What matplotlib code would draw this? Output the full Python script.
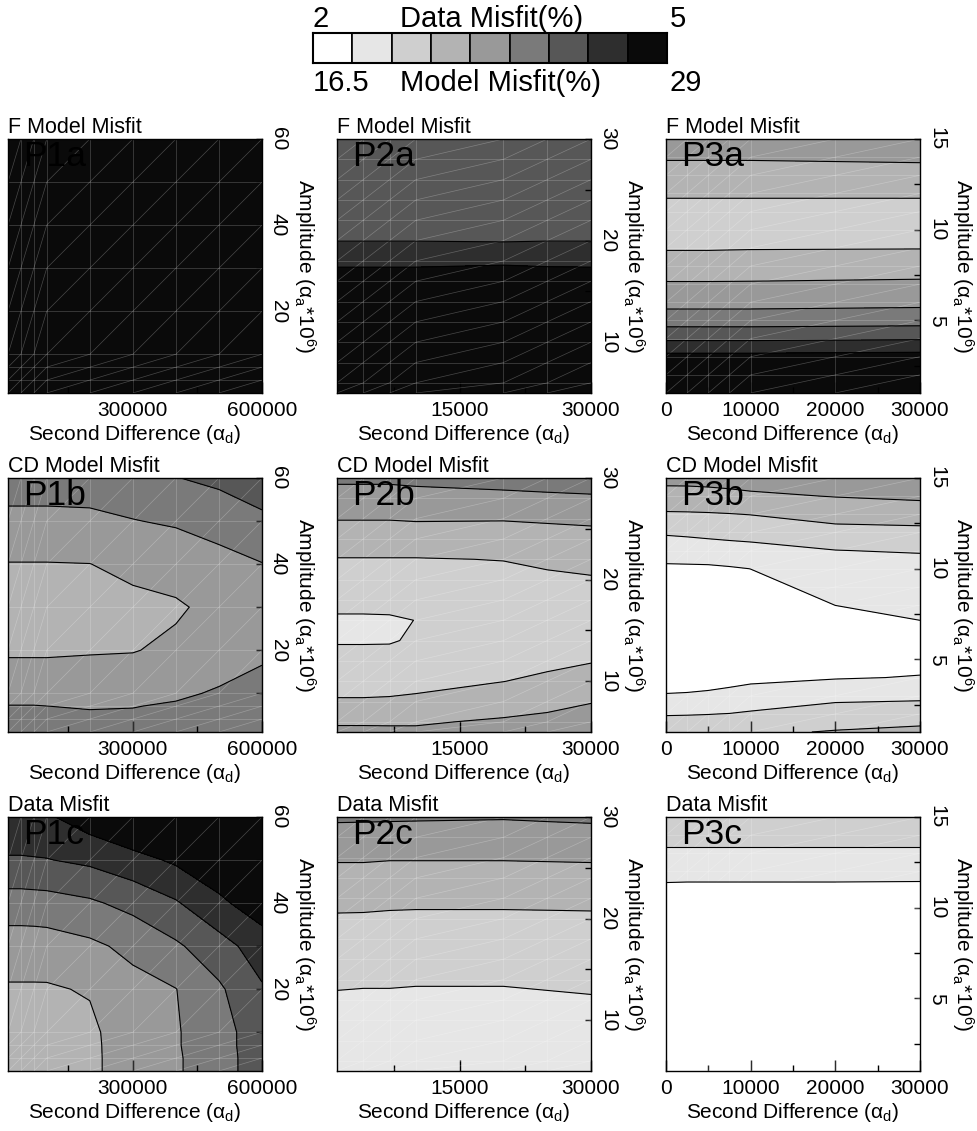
import numpy as np
import matplotlib
matplotlib.use('Agg')
import matplotlib.pyplot as plt
from matplotlib.colors import ListedColormap, BoundaryNorm
from matplotlib.collections import LineCollection
from matplotlib.patches import Rectangle

plt.rcParams['font.family'] = ['Liberation Sans', 'DejaVu Sans']
plt.rcParams['mathtext.fontset'] = 'custom'
plt.rcParams['mathtext.rm'] = 'Liberation Sans'
plt.rcParams['mathtext.it'] = 'Liberation Sans:italic'
plt.rcParams['mathtext.bf'] = 'Liberation Sans:bold'

# ---------------- colour scale ----------------
band_colors = ['#ffffff', '#e6e6e6', '#cfcfcf', '#b3b3b3', '#999999',
               '#7a7a7a', '#575757', '#2e2e2e', '#0a0a0a']
data_range = [2, 5]        # Data Misfit (%)
model_range = [16.5, 29]   # Model Misfit (%)

row_titles = ['F Model Misfit', 'CD Model Misfit', 'Data Misfit']
panel_names = [['P1a', 'P2a', 'P3a'], ['P1b', 'P2b', 'P3b'], ['P1c', 'P2c', 'P3c']]

# ---------------- grids (second difference, amplitude) ----------------
x_p1 = [10000, 40000, 70000, 100000, 200000, 300000, 400000, 500000, 600000]
y_p1 = [1, 4, 7, 10, 20, 30, 40, 50, 60]
x_p2 = [1000, 4000, 7000, 10000, 20000, 25000, 30000]
y_p2 = [5, 6, 8, 10, 12, 14, 16, 18, 20, 22, 24, 26, 28, 30]
x_p3 = [0, 2500, 5000, 7500, 10000, 20000, 30000]
y_p3 = [1, 2, 3, 4, 5, 6, 7, 8, 9, 10, 11, 12, 13, 14, 15]

# tick values
xticks_major = [[300000, 600000], [15000, 30000], [0, 10000, 20000, 30000]]
xticks_minor = [[150000, 450000], [7500, 22500], [5000, 15000, 25000]]
yticks_major = [[20, 40, 60], [10, 20, 30], [5, 10, 15]]
yticks_minor = [[10, 30, 50], [15, 25], [2.5, 7.5, 12.5]]

# ---------------- misfit values (rows = amplitude ascending) ----------------
p1a = [
    [31.0, 30.9, 30.8, 30.7, 30.5, 30.4, 30.3, 30.2, 30.2],
    [30.8, 30.7, 30.6, 30.5, 30.3, 30.2, 30.1, 30.0, 30.0],
    [30.6, 30.5, 30.4, 30.3, 30.1, 30.0, 29.9, 29.9, 29.8],
    [30.4, 30.3, 30.2, 30.1, 29.9, 29.8, 29.7, 29.7, 29.6],
    [30.0, 29.9, 29.8, 29.7, 29.5, 29.4, 29.3, 29.3, 29.2],
    [29.8, 29.7, 29.6, 29.5, 29.3, 29.2, 29.1, 29.1, 29.0],
    [29.6, 29.5, 29.4, 29.3, 29.1, 29.0, 28.9, 28.9, 28.8],
    [29.4, 29.3, 29.2, 29.1, 28.9, 28.8, 28.7, 28.7, 28.6],
    [29.2, 29.1, 29.0, 28.9, 28.7, 28.6, 28.5, 28.5, 28.4],
]
p1b = [
    [24.0, 24.0, 24.0, 23.95, 23.9, 23.9, 24.0, 24.1, 24.2],
    [23.8, 23.8, 23.8, 23.75, 23.7, 23.7, 23.9, 24.0, 24.1],
    [23.5, 23.5, 23.5, 23.45, 23.35, 23.4, 23.6, 23.8, 24.0],
    [22.8, 22.8, 22.8, 22.8, 22.9, 22.9, 23.2, 23.6, 23.9],
    [21.9, 21.9, 21.9, 21.9, 21.95, 22.0, 22.3, 22.6, 23.2],
    [21.5, 21.5, 21.5, 21.5, 21.6, 21.7, 21.9, 22.4, 23.0],
    [22.0, 22.0, 22.0, 22.0, 22.04, 22.4, 22.6, 22.9, 23.4],
    [23.2, 23.2, 23.2, 23.2, 23.2, 23.4, 23.6, 24.1, 24.6],
    [23.9, 23.9, 23.9, 23.9, 24.0, 24.3, 24.8, 25.1, 25.5],
]
p1c = [
    [3.15, 3.15, 3.16, 3.17, 3.25, 3.54, 3.63, 3.85, 4.19],
    [3.15, 3.16, 3.16, 3.17, 3.25, 3.54, 3.63, 3.85, 4.19],
    [3.16, 3.16, 3.17, 3.18, 3.25, 3.55, 3.64, 3.86, 4.20],
    [3.20, 3.20, 3.20, 3.21, 3.26, 3.55, 3.64, 3.86, 4.20],
    [3.30, 3.30, 3.30, 3.30, 3.36, 3.56, 3.66, 3.95, 4.30],
    [3.50, 3.50, 3.50, 3.51, 3.60, 3.75, 3.95, 4.20, 4.50],
    [3.85, 3.85, 3.86, 3.87, 3.95, 4.10, 4.30, 4.60, 4.85],
    [4.30, 4.30, 4.31, 4.32, 4.40, 4.55, 4.72, 4.90, 5.10],
    [4.60, 4.60, 4.61, 4.62, 4.85, 5.05, 5.20, 5.30, 5.40],
]
p2a = [
    [30.4, 30.4, 30.4, 30.4, 30.3, 30.3, 30.3],
    [30.3, 30.3, 30.3, 30.3, 30.2, 30.2, 30.2],
    [30.2, 30.2, 30.2, 30.2, 30.1, 30.1, 30.1],
    [30.0, 30.0, 30.0, 30.0, 29.9, 29.9, 29.9],
    [29.8, 29.8, 29.8, 29.8, 29.7, 29.7, 29.7],
    [29.5, 29.5, 29.5, 29.5, 29.4, 29.4, 29.4],
    [29.0, 29.0, 29.0, 29.0, 28.8, 28.9, 29.0],
    [27.0, 27.0, 27.0, 27.0, 27.3, 27.1, 27.0],
    [26.2, 26.2, 26.2, 26.2, 26.15, 26.2, 26.2],
    [25.9, 25.9, 25.9, 25.9, 25.9, 25.9, 25.9],
    [25.7, 25.7, 25.7, 25.7, 25.7, 25.7, 25.7],
    [25.5, 25.5, 25.5, 25.5, 25.5, 25.5, 25.5],
    [25.4, 25.4, 25.4, 25.4, 25.4, 25.4, 25.4],
    [25.3, 25.3, 25.3, 25.3, 25.3, 25.3, 25.3],
]
p2b = [
    [22.5, 22.5, 22.45, 22.3, 22.6, 22.75, 22.9],
    [21.8, 21.8, 21.8, 21.9, 22.25, 22.4, 22.6],
    [20.8, 20.8, 20.85, 20.9, 21.3, 21.65, 22.0],
    [20.1, 20.1, 20.1, 20.3, 20.65, 20.9, 21.2],
    [19.6, 19.6, 19.65, 19.7, 20.2, 20.4, 20.6],
    [19.2, 19.2, 19.2, 19.4, 19.9, 20.0, 20.15],
    [19.0, 19.0, 19.05, 19.3, 19.8, 19.95, 20.1],
    [19.9, 19.9, 19.9, 19.9, 20.0, 20.15, 20.3],
    [20.2, 20.2, 20.2, 20.2, 20.3, 20.45, 20.55],
    [20.6, 20.6, 20.6, 20.6, 20.7, 20.9, 21.1],
    [21.5, 21.5, 21.5, 21.5, 21.7, 21.75, 21.8],
    [22.1, 22.1, 22.1, 22.15, 22.1, 22.15, 22.2],
    [23.1, 23.1, 23.1, 23.15, 23.2, 23.25, 23.3],
    [23.6, 23.6, 23.6, 23.65, 23.8, 23.9, 24.0],
]
p2c = [
    [2.43, 2.43, 2.42, 2.42, 2.42, 2.43, 2.45],
    [2.45, 2.45, 2.44, 2.44, 2.44, 2.45, 2.47],
    [2.50, 2.49, 2.49, 2.48, 2.48, 2.50, 2.52],
    [2.55, 2.55, 2.54, 2.53, 2.53, 2.55, 2.58],
    [2.62, 2.61, 2.61, 2.60, 2.60, 2.62, 2.64],
    [2.72, 2.71, 2.71, 2.70, 2.70, 2.72, 2.74],
    [2.82, 2.81, 2.81, 2.80, 2.79, 2.81, 2.84],
    [2.90, 2.89, 2.89, 2.88, 2.87, 2.89, 2.91],
    [2.97, 2.97, 2.96, 2.96, 2.96, 2.965, 2.97],
    [3.08, 3.07, 3.06, 3.05, 3.05, 3.05, 3.05],
    [3.25, 3.25, 3.24, 3.24, 3.24, 3.245, 3.25],
    [3.36, 3.36, 3.35, 3.35, 3.35, 3.355, 3.36],
    [3.45, 3.45, 3.45, 3.45, 3.44, 3.45, 3.46],
    [3.75, 3.74, 3.73, 3.72, 3.70, 3.73, 3.76],
]
p3a = [
    [30.5, 30.5, 30.5, 30.5, 30.5, 30.6, 30.6],
    [29.5, 29.5, 29.5, 29.5, 29.5, 29.6, 29.6],
    [28.0, 28.0, 28.0, 28.0, 28.0, 28.05, 28.1],
    [26.0, 26.0, 26.0, 26.0, 26.0, 26.05, 26.1],
    [24.2, 24.2, 24.2, 24.2, 24.2, 24.25, 24.3],
    [23.0, 23.0, 23.0, 23.0, 23.0, 23.05, 23.1],
    [22.2, 22.2, 22.2, 22.2, 22.2, 22.25, 22.3],
    [21.2, 21.2, 21.2, 21.25, 21.3, 21.35, 21.4],
    [20.58, 20.58, 20.58, 20.59, 20.6, 20.61, 20.62],
    [20.0, 20.0, 20.0, 20.0, 20.0, 20.0, 20.0],
    [20.3, 20.3, 20.3, 20.3, 20.3, 20.3, 20.3],
    [20.8, 20.8, 20.8, 20.8, 20.8, 20.8, 20.8],
    [21.4, 21.4, 21.4, 21.4, 21.4, 21.45, 21.5],
    [22.2, 22.2, 22.2, 22.2, 22.2, 22.25, 22.3],
    [22.8, 22.8, 22.8, 22.8, 22.8, 22.85, 22.9],
]
p3b = [
    [20.0, 20.0, 20.05, 20.1, 20.45, 20.75, 21.0],
    [19.2, 19.22, 19.25, 19.3, 19.4, 19.9, 20.0],
    [18.0, 18.05, 18.15, 18.35, 18.6, 18.9, 19.0],
    [17.1, 17.15, 17.25, 17.35, 17.5, 17.8, 17.95],
    [16.5, 16.55, 16.6, 16.65, 16.7, 17.3, 17.5],
    [16.4, 16.45, 16.5, 16.55, 16.6, 17.2, 17.4],
    [16.5, 16.55, 16.6, 16.7, 16.8, 17.4, 17.85],
    [16.7, 16.75, 16.8, 16.9, 17.0, 17.9, 18.1],
    [17.0, 17.05, 17.1, 17.25, 17.4, 18.4, 18.35],
    [17.5, 17.55, 17.6, 17.75, 17.9, 18.8, 18.6],
    [18.9, 18.9, 18.9, 18.9, 18.9, 19.25, 19.4],
    [19.35, 19.4, 19.48, 19.58, 19.7, 20.2, 20.3],
    [20.5, 20.52, 20.56, 20.62, 20.7, 21.2, 21.3],
    [21.6, 21.62, 21.66, 21.75, 21.85, 22.1, 22.3],
    [22.4, 22.4, 22.45, 22.5, 22.6, 22.9, 23.0],
]
p3c = [
    [2.00, 2.00, 2.00, 2.00, 2.00, 2.00, 2.00],
    [2.02, 2.02, 2.02, 2.02, 2.02, 2.02, 2.02],
    [2.04, 2.04, 2.04, 2.04, 2.04, 2.04, 2.04],
    [2.05, 2.05, 2.05, 2.05, 2.05, 2.05, 2.05],
    [2.06, 2.06, 2.06, 2.06, 2.06, 2.06, 2.06],
    [2.07, 2.07, 2.07, 2.07, 2.07, 2.07, 2.07],
    [2.08, 2.08, 2.08, 2.08, 2.08, 2.08, 2.08],
    [2.10, 2.10, 2.10, 2.10, 2.10, 2.10, 2.10],
    [2.12, 2.12, 2.12, 2.12, 2.12, 2.12, 2.12],
    [2.15, 2.15, 2.15, 2.15, 2.15, 2.15, 2.15],
    [2.26, 2.25, 2.25, 2.25, 2.25, 2.25, 2.24],
    [2.45, 2.45, 2.45, 2.45, 2.45, 2.45, 2.45],
    [2.60, 2.60, 2.60, 2.60, 2.60, 2.60, 2.60],
    [2.78, 2.78, 2.78, 2.78, 2.78, 2.78, 2.78],
    [2.90, 2.90, 2.90, 2.90, 2.90, 2.90, 2.90],
]

grids = [(x_p1, y_p1), (x_p2, y_p2), (x_p3, y_p3)]
values = [[p1a, p2a, p3a], [p1b, p2b, p3b], [p1c, p2c, p3c]]
scales = ['model', 'model', 'data']

# ---------------- figure ----------------
W, H = 978, 1131
fig = plt.figure(figsize=(W / 100, H / 100), dpi=100)
col_left = [8, 337, 666]
row_top = [139, 478, 817]
SZ = 254

cmap = ListedColormap(band_colors)
cmap.set_under(band_colors[0])
cmap.set_over(band_colors[-1])

xlabel = 'Second Difference (\u03b1$_{\\mathrm{d}}$)'
ylabel = 'Amplitude (\u03b1$_{\\mathrm{a}}$*10$^{\\mathrm{6}}$)'

for r in range(3):
    rng = model_range if scales[r] == 'model' else data_range
    levels = np.linspace(rng[0], rng[1], len(band_colors) + 1)
    norm = BoundaryNorm(levels, len(band_colors))
    for c in range(3):
        xg, yg = grids[c]
        Z = np.array(values[r][c])
        X, Y = np.meshgrid(xg, yg)
        ax = fig.add_axes([col_left[c] / W, 1 - (row_top[r] + SZ) / H, SZ / W, SZ / H])
        ax.contourf(X, Y, Z, levels=levels, cmap=cmap, norm=norm, extend='both', zorder=1)
        # mesh lines of the computation grid
        segs = []
        for xv in xg:
            segs.append([(xv, yg[0]), (xv, yg[-1])])
        for yv in yg:
            segs.append([(xg[0], yv), (xg[-1], yv)])
        for i in range(len(xg) - 1):
            for j in range(len(yg) - 1):
                segs.append([(xg[i], yg[j]), (xg[i + 1], yg[j + 1])])
        ax.add_collection(LineCollection(segs, colors=[(1, 1, 1, 0.25)], linewidths=0.5, zorder=2))
        ax.contour(X, Y, Z, levels=levels[1:-1], colors='black', linewidths=0.8, zorder=3)
        ax.set_xlim(xg[0], xg[-1])
        ax.set_ylim(yg[0], yg[-1])

        ax.set_xticks(xticks_major[c], labels=[str(int(v)) for v in xticks_major[c]])
        ax.set_xticks(xticks_minor[c], minor=True)
        ax.yaxis.tick_right()
        ax.set_yticks(yticks_major[c], labels=[str(int(v)) for v in yticks_major[c]],
                      rotation=-90, va='center', ha='left')
        ax.set_yticks(yticks_minor[c], minor=True)
        ax.tick_params(axis='x', which='major', direction='in', length=8, width=1,
                       labelsize=15, pad=6, top=False)
        ax.tick_params(axis='x', which='minor', direction='in', length=4.5, width=1, top=False)
        ax.tick_params(axis='y', which='both', direction='in', length=4.5, width=1,
                       labelsize=15, pad=5, left=False, right=True,
                       labelleft=False, labelright=True)
        for sp in ax.spines.values():
            sp.set_linewidth(1.0)
            sp.set_color('black')

        ax.set_xlabel(xlabel, fontsize=15)
        ax.xaxis.set_label_coords(0.5, -0.165)
        ax.xaxis.label.set_va('center')
        ax.yaxis.set_label_position('right')
        ax.set_ylabel(ylabel, fontsize=15, rotation=-90, va='center', ha='center')
        ax.yaxis.set_label_coords(1.17, 0.5)

        ax.text(0, 1 + 6 / SZ, row_titles[r], transform=ax.transAxes,
                fontsize=15.5, ha='left', va='baseline')
        ax.text(15 / SZ, 1 - 27 / SZ, panel_names[r][c], transform=ax.transAxes,
                fontsize=25.5, ha='left', va='baseline', color='black', zorder=5)

# ---------------- colour bar ----------------
cax = fig.add_axes([313 / W, 1 - 63 / H, 354 / W, 30 / H])
for i, col in enumerate(band_colors):
    cax.add_patch(Rectangle((i, 0), 1, 1, facecolor=col, edgecolor='black', linewidth=1.2))
cax.set_xlim(0, len(band_colors))
cax.set_ylim(0, 1)
cax.set_xticks([])
cax.set_yticks([])
for sp in cax.spines.values():
    sp.set_linewidth(1.5)

fs = 21
fig.text(313 / W, 1 - 27 / H, f'{data_range[0]:g}', fontsize=fs, ha='left', va='baseline')
fig.text(492 / W, 1 - 27 / H, 'Data Misfit(%)', fontsize=fs, ha='center', va='baseline')
fig.text(670 / W, 1 - 27 / H, f'{data_range[1]:g}', fontsize=fs, ha='left', va='baseline')
fig.text(313 / W, 1 - 91 / H, f'{model_range[0]:g}', fontsize=fs, ha='left', va='baseline')
fig.text(501 / W, 1 - 91 / H, 'Model Misfit(%)', fontsize=fs, ha='center', va='baseline')
fig.text(670 / W, 1 - 91 / H, f'{model_range[1]:g}', fontsize=fs, ha='left', va='baseline')

fig.savefig('out.png', dpi=100)
